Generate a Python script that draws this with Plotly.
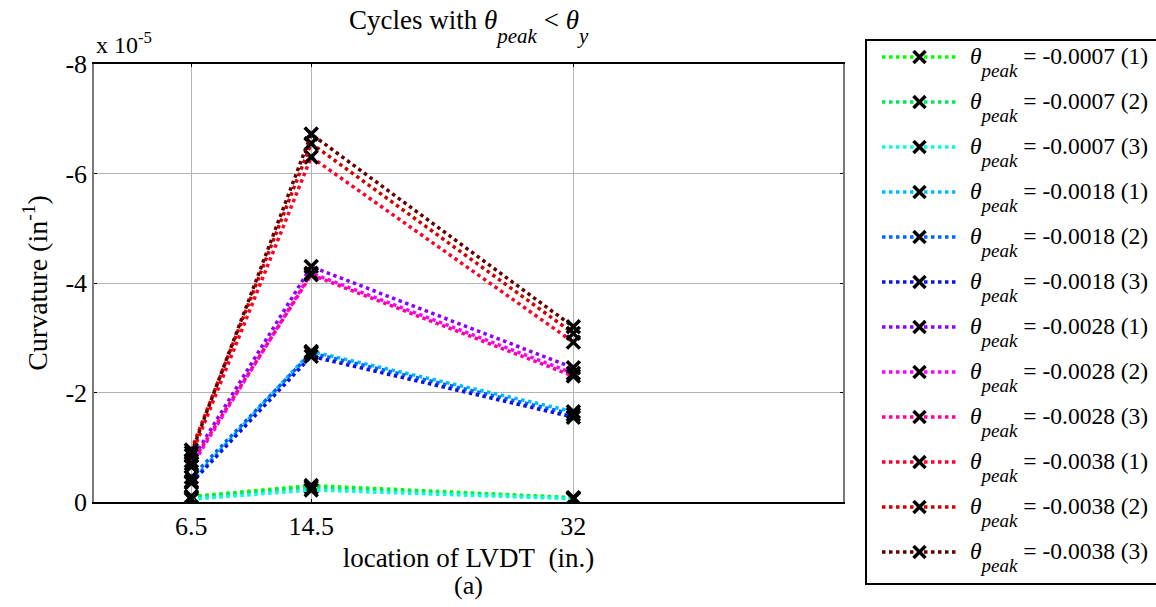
import plotly.graph_objects as go

# LVDT locations along the member (in.)
locations = [6.5, 14.5, 32]
location_labels = ["6.5", "14.5", "32"]

# Curvature axis ticks (units of 1e-5 1/in.)
curv_ticks = [0, -2, -4, -6, -8]
curv_tick_labels = ["0", "-2", "-4", "-6", "-8"]

# Peak rotation of each cycle and cycle number
peak_rotation = ["-0.0007", "-0.0007", "-0.0007",
                 "-0.0018", "-0.0018", "-0.0018",
                 "-0.0028", "-0.0028", "-0.0028",
                 "-0.0038", "-0.0038", "-0.0038"]
cycle_no = [1, 2, 3, 1, 2, 3, 1, 2, 3, 1, 2, 3]

# Curvature at each LVDT location, in units of 1e-5 1/in.
curv_0007_1 = [-0.10, -0.30, -0.08]
curv_0007_2 = [-0.08, -0.27, -0.07]
curv_0007_3 = [-0.05, -0.22, -0.06]
curv_0018_1 = [-0.38, -2.75, -1.65]
curv_0018_2 = [-0.45, -2.72, -1.60]
curv_0018_3 = [-0.35, -2.66, -1.55]
curv_0028_1 = [-0.75, -4.30, -2.45]
curv_0028_2 = [-0.65, -4.18, -2.35]
curv_0028_3 = [-0.70, -4.15, -2.30]
curv_0038_1 = [-0.85, -6.30, -2.92]
curv_0038_2 = [-0.95, -6.55, -3.08]
curv_0038_3 = [-0.90, -6.72, -3.20]

curvatures = [curv_0007_1, curv_0007_2, curv_0007_3,
              curv_0018_1, curv_0018_2, curv_0018_3,
              curv_0028_1, curv_0028_2, curv_0028_3,
              curv_0038_1, curv_0038_2, curv_0038_3]

line_colors = ["#00ff00", "#00e65a", "#00ffdc",
               "#00bcff", "#0064ff", "#0a14e6",
               "#8c00ff", "#ff00ff", "#ff0096",
               "#ff0028", "#d20000", "#640000"]

SERIF = "Liberation Serif, Times New Roman, serif"
W, H = 1156, 607

# Pixel frame of the axes and of the key box
AX_L, AX_R, AX_T, AX_B = 94, 843, 64, 502
KEY_L, KEY_T, KEY_B = 866, 40, 584
KEY_ROW0, KEY_DY = 57, 45
KEY_LINE = (882, 957)
KEY_TEXT_X = 968

line_style = dict(width=3.5, dash="dot")
marker_style = dict(symbol="x-thin", size=13, color="black",
                    line=dict(color="black", width=3.5))


def theta_sub(sub, size):
    # theta with a lowered italic subscript
    return (f"<i>θ</i><sub><span style='font-size:{size}px;baseline-shift:-0.4em'>"
            f"<i>{sub}</i></span></sub>")


fig = go.Figure()
for rot, cyc, y, col in zip(peak_rotation, cycle_no, curvatures, line_colors):
    fig.add_trace(go.Scatter(
        x=locations, y=y, mode="lines+markers",
        line=dict(color=col, **line_style), marker=marker_style,
        showlegend=False, hoverinfo="x+y",
    ))

# Key: one dotted sample line with a cross per cycle, drawn on a pixel-scaled axis
for i, (rot, cyc, col) in enumerate(zip(peak_rotation, cycle_no, line_colors)):
    yk = KEY_ROW0 + KEY_DY * i
    fig.add_trace(go.Scatter(
        x=[KEY_LINE[0], KEY_LINE[1]], y=[yk, yk], mode="lines",
        line=dict(color=col, **line_style),
        xaxis="x2", yaxis="y2", showlegend=False, hoverinfo="skip",
    ))
    fig.add_trace(go.Scatter(
        x=[(KEY_LINE[0] + KEY_LINE[1]) / 2], y=[yk], mode="markers",
        marker=dict(symbol="x-thin", size=12, color="black",
                    line=dict(color="black", width=3.5)),
        xaxis="x2", yaxis="y2", showlegend=False, hoverinfo="skip",
    ))
    fig.add_annotation(
        text=f"{theta_sub('peak', 19)} = {rot} ({cyc})",
        xref="x2", yref="y2", x=KEY_TEXT_X, y=yk, xanchor="left", yanchor="middle",
        yshift=-5, showarrow=False, font=dict(family=SERIF, size=23.5, color="black"),
    )

fig.add_shape(type="rect", xref="paper", yref="paper",
              x0=KEY_L / W, x1=(W + 10) / W, y0=1 - KEY_B / H, y1=1 - KEY_T / H,
              line=dict(color="black", width=2), fillcolor="rgba(0,0,0,0)", layer="above")

fig.update_layout(
    width=W, height=H,
    margin=dict(l=0, r=0, t=0, b=0),
    paper_bgcolor="white", plot_bgcolor="white",
    font=dict(family=SERIF, color="black", size=26),
    showlegend=False,
    xaxis=dict(domain=[AX_L / W, AX_R / W], range=[0, 50],
               tickvals=locations, ticktext=location_labels,
               showgrid=True, gridcolor="#b4b4b4", gridwidth=1,
               showline=True, linecolor="black", linewidth=1.5, mirror="ticks",
               ticks="inside", ticklen=3, tickcolor="black",
               tickfont=dict(size=26), zeroline=False, automargin=False,
               title=dict(text="location of LVDT&nbsp; (in.)", font=dict(size=27), standoff=8)),
    yaxis=dict(domain=[1 - AX_B / H, 1 - AX_T / H], range=[0, -8], autorange=False,
               tickvals=curv_ticks, ticktext=curv_tick_labels,
               showgrid=True, gridcolor="#b4b4b4", gridwidth=1,
               showline=True, linecolor="#7a7a7a", linewidth=1.5, mirror="ticks",
               ticks="inside", ticklen=3, tickcolor="black",
               tickfont=dict(size=26), zeroline=False, automargin=False,
               title=dict(text="Curvature (in<sup>-1</sup>)", font=dict(size=28), standoff=10)),
    xaxis2=dict(domain=[KEY_L / W, 1], range=[KEY_L, W], visible=False, anchor="y2"),
    yaxis2=dict(domain=[0, 1], range=[H, 0], visible=False, anchor="x2"),
)

fig.add_annotation(text=f"Cycles with {theta_sub('peak', 21)} &lt; {theta_sub('y', 21)}",
                   xref="paper", yref="paper", x=(AX_L + AX_R) / 2 / W, y=1 - 3 / H,
                   xanchor="center", yanchor="top", showarrow=False,
                   font=dict(size=27))
fig.add_annotation(text="x 10<sup>-5</sup>", xref="paper", yref="paper",
                   x=AX_L / W, y=1 - 60 / H, xanchor="left", yanchor="bottom",
                   showarrow=False, font=dict(size=24))
fig.add_annotation(text="(a)", xref="paper", yref="paper",
                   x=(AX_L + AX_R) / 2 / W, y=1 - 585 / H, xanchor="center", yanchor="middle",
                   showarrow=False, font=dict(size=26))

fig.write_html("out.html")
